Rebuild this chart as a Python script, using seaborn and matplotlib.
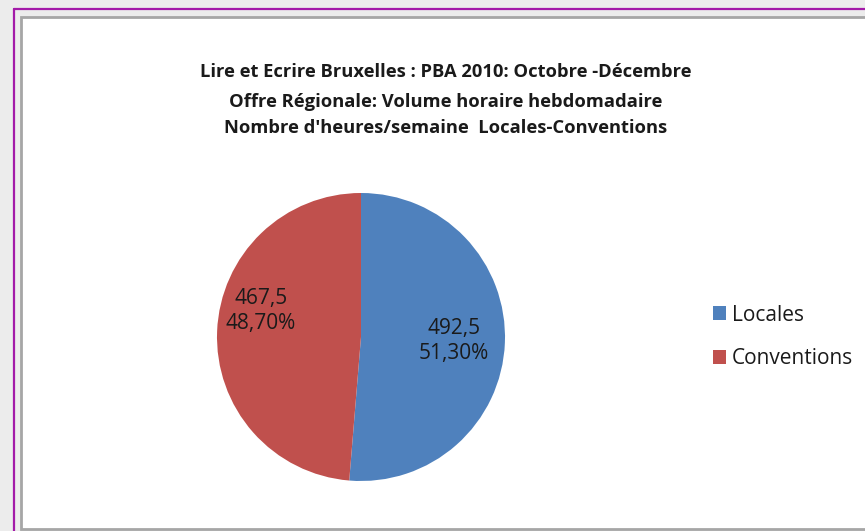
import matplotlib
matplotlib.use("Agg")
import matplotlib.pyplot as plt
import seaborn as sns
from matplotlib.patches import Rectangle, Patch
from matplotlib.lines import Line2D

categories = ["Locales", "Conventions"]
values = [492.5, 467.5]
value_labels = ["492,5", "467,5"]
pct_labels = ["51,30%", "48,70%"]
colors = ["#4F81BD", "#C0504D"]
title_lines = [
    "Lire et Ecrire Bruxelles : PBA 2010: Octobre -Décembre",
    "Offre Régionale: Volume horaire hebdomadaire",
    "Nombre d'heures/semaine  Locales-Conventions",
]

sns.set_theme(style="white")
plt.rcParams["font.family"] = ["Open Sans", "DejaVu Sans"]

W, H = 865, 531
fig = plt.figure(figsize=(W / 100, H / 100), dpi=100)
fig.patch.set_facecolor("#ececec")

def px(x, y):
    return x / W, 1 - y / H

# white chart area
fig.patches.append(Rectangle(px(21, 529), (W + 10 - 21) / W, (529 - 17) / H,
                             transform=fig.transFigure, facecolor="white",
                             edgecolor="#a6a6a6", linewidth=2.0, zorder=-5))
# purple frame lines
fig.lines.append(Line2D([14 / W, 1], [1 - 8.5 / H, 1 - 8.5 / H], transform=fig.transFigure,
                        color="#a31aa8", linewidth=1.6, zorder=-4))
fig.lines.append(Line2D([14 / W, 14 / W], [0, 1 - 8.5 / H], transform=fig.transFigure,
                        color="#a31aa8", linewidth=1.6, zorder=-4))

# title
for y, line in zip([72, 102, 128], title_lines):
    fig.text(446 / W, 1 - y / H, line, ha="center", va="center",
             fontsize=13.2, fontweight="bold", color="#1a1a1a")

# pie
cx, cy, r = 361, 337, 144
ax = fig.add_axes([(cx - r) / W, 1 - (cy + r) / H, 2 * r / W, 2 * r / H])
ax.set_zorder(5)
wedges, _ = ax.pie(values, colors=colors, startangle=90, counterclock=False,
                   wedgeprops=dict(linewidth=0))
ax.set_xlim(-1, 1)
ax.set_ylim(-1, 1)
ax.set_aspect("equal")
ax.axis("off")

label_pos = [(454, 341), (261, 311)]
for (lx, ly), v, p in zip(label_pos, value_labels, pct_labels):
    ax.text((lx - cx) / r, -(ly - cy) / r, f"{v}\n{p}", ha="center", va="center",
            fontsize=15, color="#1a1a1a", linespacing=1.3)

handles = [Patch(facecolor=c, edgecolor="none") for c in colors]
fig.legend(handles, categories, loc="center left", bbox_to_anchor=(694 / W, 1 - 337 / H),
           frameon=False, fontsize=15, handlelength=0.62, handleheight=0.62,
           handletextpad=0.3, labelspacing=1.1, labelcolor="#1a1a1a")

fig.savefig("out.png", dpi=100, facecolor=fig.get_facecolor())
